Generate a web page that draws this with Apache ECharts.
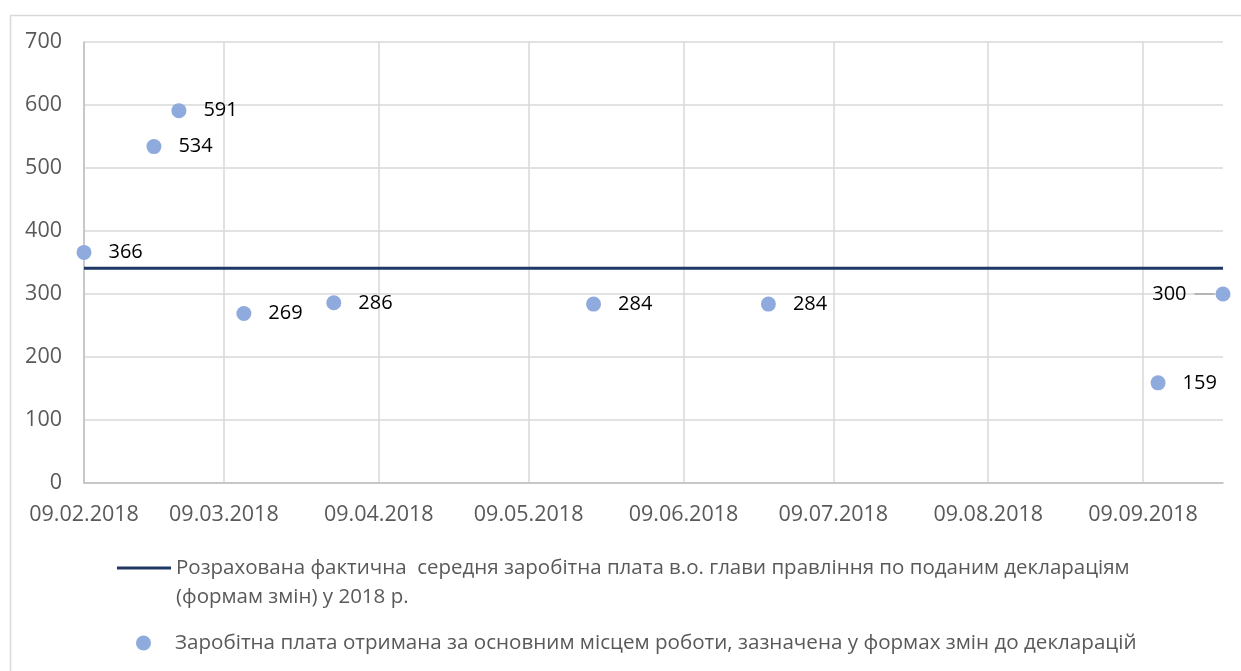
<!DOCTYPE html>
<html>
<head>
<meta charset="utf-8">
<script src="https://cdn.jsdelivr.net/npm/echarts@6/dist/echarts.min.js"></script>
<style>
  html, body { margin: 0; padding: 0; background: #fff; }
  #chart { width: 1241px; height: 671px; }
</style>
</head>
<body>
<div id="chart"></div>
<script>
// дати й значення
const pointDates = ['2018-02-09', '2018-02-23', '2018-02-28', '2018-03-13', '2018-03-31',
  '2018-05-22', '2018-06-26', '2018-09-12', '2018-09-25'];
const pointValues = [366, 534, 591, 269, 286, 284, 284, 159, 300];
const avgDates = ['2018-02-09', '2018-09-25'];
const avgValue = 341;
const tickDates = ['2018-02-09', '2018-03-09', '2018-04-09', '2018-05-09',
  '2018-06-09', '2018-07-09', '2018-08-09', '2018-09-09'];
const yTicks = [0, 100, 200, 300, 400, 500, 600, 700];

const lineName = 'Розрахована фактична  середня заробітна плата в.о. глави правління по поданим деклараціям\n(формам змін) у 2018 р.';
const dotName = 'Заробітна плата отримана за основним місцем роботи, зазначена у формах змін до декларацій';

const FONT = '"Open Sans", "Noto Sans", sans-serif';
const lastIdx = pointDates.length - 1;

function ts(s) {
  const p = s.split('-').map(Number);
  return new Date(p[0], p[1] - 1, p[2]).getTime();
}
function pad(n) { return n < 10 ? '0' + n : '' + n; }
function fmtDate(v) {
  const d = new Date(v);
  return pad(d.getDate()) + '.' + pad(d.getMonth() + 1) + '.' + d.getFullYear();
}

const tickTs = tickDates.map(ts);
const scatterData = pointDates.map((d, i) => {
  const item = { value: [ts(d), pointValues[i]] };
  // остання точка: підпис зліва з виносною лінією (сіра риска в rich-тексті)
  if (i === lastIdx) {
    item.label = {
      position: 'left',
      distance: 1,
      formatter: p => '{v|' + p.value[1] + '}{g|}{l|}',
      rich: {
        v: { color: '#000', fontSize: 20, fontFamily: FONT },
        g: { width: 8, height: 1 },
        l: { width: 20, height: 1.5, backgroundColor: '#a6a6a6' }
      }
    };
  }
  return item;
});

let myChart = echarts.init(document.getElementById('chart'));
let option = {
  animation: false,
  textStyle: { fontFamily: FONT },
  graphic: [
    {
      type: 'rect',
      left: 8, top: 13,
      shape: { width: 1300, height: 700 },
      style: { fill: 'none', stroke: '#d9d9d9', lineWidth: 1.5 },
      silent: true
    }
  ],
  grid: { left: 84, right: 18, top: 42, bottom: 188 },
  xAxis: {
    type: 'value',
    min: ts(avgDates[0]),
    max: ts(avgDates[1]),
    axisLine: { show: true, lineStyle: { color: '#bfbfbf', width: 1.5 } },
    axisTick: { show: false, customValues: tickTs },
    splitLine: { show: true, lineStyle: { color: '#d9d9d9', width: 1.5 } },
    axisLabel: {
      customValues: tickTs,
      formatter: fmtDate,
      color: '#595959',
      fontSize: 21.5,
      fontFamily: FONT,
      margin: 21,
      hideOverlap: false
    }
  },
  yAxis: {
    type: 'value',
    min: 0, max: 700, interval: 100,
    axisLine: { show: true, lineStyle: { color: '#bfbfbf', width: 1.5 } },
    axisTick: { show: false },
    splitLine: { lineStyle: { color: '#d9d9d9', width: 1.5 } },
    axisLabel: {
      color: '#595959',
      fontSize: 21.5,
      fontFamily: FONT,
      margin: 22,
      formatter: v => (yTicks.indexOf(v) >= 0 ? String(v) : '')
    }
  },
  legend: [
    {
      data: [{ name: lineName, icon: 'rect' }],
      left: 117, top: 524.5,
      padding: 0,
      itemWidth: 54, itemHeight: 3,
      // порожній перший рядок — щоб значок стояв навпроти першого рядка тексту
      formatter: name => '\n' + name,
      textStyle: {
        color: '#595959', fontSize: 20.5, fontFamily: FONT, lineHeight: 29
      }
    },
    {
      data: [{ name: dotName, icon: 'circle' }],
      left: 136, top: 628.5,
      padding: 0,
      itemWidth: 15, itemHeight: 15,
      textStyle: {
        color: '#595959', fontSize: 20.6, fontFamily: FONT, lineHeight: 29,
        padding: [0, 0, 0, 19]
      }
    }
  ],
  series: [
    {
      name: lineName,
      type: 'line',
      symbol: 'none',
      data: avgDates.map(d => [ts(d), avgValue]),
      lineStyle: { color: '#1f3864', width: 3 },
      itemStyle: { color: '#1f3864' },
      z: 3
    },
    {
      name: dotName,
      type: 'scatter',
      symbolSize: 15,
      data: scatterData,
      itemStyle: { color: '#8faadc', opacity: 1 },
      label: {
        show: true,
        position: 'right',
        distance: 17,
        color: '#000',
        fontSize: 20,
        fontFamily: FONT,
        formatter: p => String(p.value[1])
      },
      z: 4
    }
  ]
};
myChart.setOption(option);
</script>
</body>
</html>
